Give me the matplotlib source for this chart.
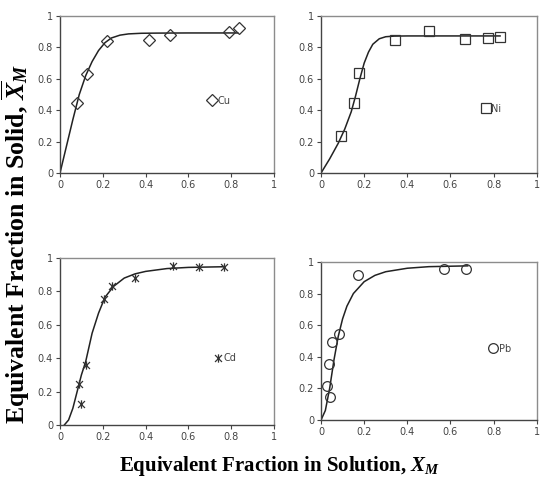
import matplotlib
matplotlib.use("Agg")
import matplotlib.pyplot as plt
from matplotlib.path import Path

# measured points
cu_x = [0.078, 0.128, 0.218, 0.416, 0.514, 0.79, 0.835]
cu_y = [0.445, 0.629, 0.839, 0.845, 0.881, 0.90, 0.926]
ni_x = [0.091, 0.152, 0.176, 0.341, 0.50, 0.667, 0.776, 0.83]
ni_y = [0.235, 0.445, 0.638, 0.85, 0.907, 0.856, 0.862, 0.869]
cd_x = [0.09, 0.098, 0.121, 0.204, 0.241, 0.35, 0.53, 0.65, 0.766]
cd_y = [0.245, 0.125, 0.359, 0.755, 0.831, 0.88, 0.95, 0.946, 0.946]
pb_x = [0.027, 0.042, 0.038, 0.05, 0.083, 0.17, 0.568, 0.674]
pb_y = [0.217, 0.143, 0.356, 0.493, 0.541, 0.92, 0.958, 0.958]

# fitted curves
cu_fit_x = [0, 0.03, 0.06, 0.09, 0.12, 0.15, 0.18, 0.21, 0.24, 0.28, 0.32, 0.38, 0.45, 0.6, 0.83]
cu_fit_y = [0, 0.17, 0.34, 0.5, 0.62, 0.71, 0.78, 0.83, 0.86, 0.878, 0.886, 0.89, 0.891, 0.892, 0.892]
ni_fit_x = [0, 0.04, 0.08, 0.11, 0.14, 0.16, 0.18, 0.2, 0.22, 0.24, 0.27, 0.3, 0.34, 0.4, 0.6, 0.83]
ni_fit_y = [0, 0.09, 0.19, 0.28, 0.39, 0.49, 0.6, 0.7, 0.77, 0.82, 0.855, 0.868, 0.872, 0.873, 0.873, 0.873]
cd_fit_x = [0.02, 0.04, 0.06, 0.08, 0.1, 0.12, 0.15, 0.18, 0.21, 0.25, 0.3, 0.35, 0.4, 0.5, 0.6, 0.77]
cd_fit_y = [0, 0.03, 0.1, 0.2, 0.3, 0.38, 0.55, 0.67, 0.765, 0.83, 0.88, 0.905, 0.92, 0.937, 0.944, 0.948]
pb_fit_x = [0, 0.02, 0.04, 0.06, 0.08, 0.1, 0.12, 0.15, 0.2, 0.25, 0.3, 0.4, 0.5, 0.68]
pb_fit_y = [0, 0.06, 0.2, 0.38, 0.53, 0.64, 0.72, 0.8, 0.875, 0.915, 0.938, 0.96, 0.97, 0.975]

ticks = [0, 0.2, 0.4, 0.6, 0.8, 1]
tick_labels = ["0", "0.2", "0.4", "0.6", "0.8", "1"]

# Excel style star marker: X with a vertical stroke
star = Path([(-1, -1), (1, 1), (-1, 1), (1, -1), (0, -1.2), (0, 1.2)],
            [Path.MOVETO, Path.LINETO, Path.MOVETO, Path.LINETO, Path.MOVETO, Path.LINETO])

plt.rcParams["mathtext.fontset"] = "custom"
plt.rcParams["mathtext.rm"] = "Liberation Serif:bold"
plt.rcParams["mathtext.it"] = "Liberation Serif:italic:bold"

fig = plt.figure(figsize=(5.42, 4.79), dpi=100)

panels = [
    ([0.1107, 0.6388, 0.395, 0.3278], cu_x, cu_y, cu_fit_x, cu_fit_y, "D", 6.3, "Cu", (0.69, 0.46)),
    ([0.5923, 0.6388, 0.398, 0.3278], ni_x, ni_y, ni_fit_x, ni_fit_y, "s", 7, "Ni", (0.745, 0.41)),
    ([0.1107, 0.1127, 0.395, 0.3486], cd_x, cd_y, cd_fit_x, cd_fit_y, star, 6, "Cd", (0.72, 0.40)),
    ([0.5923, 0.1232, 0.398, 0.33], pb_x, pb_y, pb_fit_x, pb_fit_y, "o", 7, "Pb", (0.78, 0.45)),
]

for rect, px, py, fx, fy, mk, ms, name, anchor in panels:
    ax = fig.add_axes(rect)
    ax.plot(fx, fy, color="#222222", lw=1.1)
    ax.plot(px, py, linestyle="none", marker=mk, markersize=ms, markerfacecolor="none",
            markeredgecolor="#333333", markeredgewidth=0.9, label=name)
    ax.set_xlim(0, 1)
    ax.set_ylim(0, 1)
    ax.set_xticks(ticks)
    ax.set_xticklabels(tick_labels)
    ax.set_yticks(ticks)
    ax.set_yticklabels(tick_labels)
    ax.tick_params(direction="out", length=3, width=0.8, labelsize=7, colors="#444444", pad=2)
    for side in ["left", "bottom"]:
        ax.spines[side].set_color("#444444")
        ax.spines[side].set_linewidth(1.0)
    for side in ["top", "right"]:
        ax.spines[side].set_color("#8c8c8c")
        ax.spines[side].set_linewidth(1.0)
    ax.legend(loc="center left", bbox_to_anchor=anchor, frameon=False, fontsize=7,
              handlelength=0.8, handletextpad=0.2, borderpad=0, borderaxespad=0,
              labelcolor="#444444")

fig.text(0.515, 0.027, r"Equivalent Fraction in Solution, $X_M$", ha="center", va="center",
         family="Liberation Serif", fontweight="bold", fontsize=15)
fig.text(0.03, 0.49, r"Equivalent Fraction in Solid, $\overline{X}_M$", ha="center", va="center",
         rotation=90, family="Liberation Serif", fontweight="bold", fontsize=18.5)

fig.savefig("out.png", dpi=100)
